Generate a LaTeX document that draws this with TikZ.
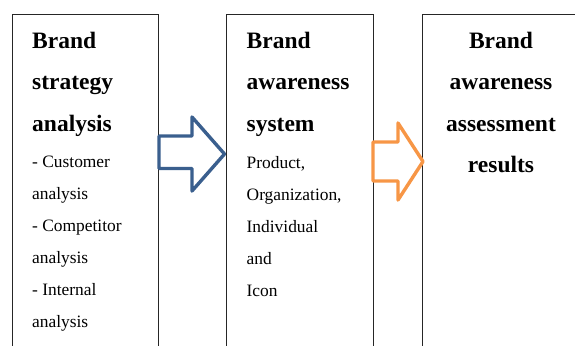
\documentclass[tikz,border=0pt]{standalone}
\usepackage{fontspec}
\setmainfont{Liberation Serif}

% one bold heading line and one plain text line, stacked in a \vtop
\newcommand\boxhead[1]{\hbox{\fontsize{23.5bp}{41.5bp}\selectfont\bfseries #1}}
\newcommand\boxline[1]{\hbox{\fontsize{17.4bp}{32bp}\selectfont #1}}
\newcommand\boxheadc[1]{\hbox to 0pt{\hss\fontsize{23.5bp}{41.5bp}\selectfont\bfseries #1\hss}}

\definecolor{arrowblue}{HTML}{3A5F8E}
\definecolor{arroworange}{HTML}{F79646}

\tikzset{
  panel/.style={draw=black!85, line width=0.9bp, anchor=north west,
                minimum height=420bp, inner sep=0pt},
  stack/.style={anchor=base west, inner sep=0pt},
  blockarrow/.style={line width=3.4bp, line join=round, fill=white}
}

\begin{document}
\begin{tikzpicture}[x=1bp, y=-1bp]
  \useasboundingbox (0,0) rectangle (575,345);
  \clip (0,0) rectangle (575,345);

  % the three columns (the last one runs past the right edge)
  \node[panel, minimum width=146bp] (strategy) at (12,14) {};
  \node[panel, minimum width=147bp] (system)   at (226,14) {};
  \node[panel, minimum width=200bp] (results)  at (421.5,14) {};

  % block arrows between the columns
  \draw[blockarrow, draw=arrowblue]
    (159,136) -- (192,136) -- (192,117) -- (224.5,154)
    -- (192,191) -- (192,168.5) -- (159,168.5) -- cycle;
  \draw[blockarrow, draw=arroworange]
    (373,142) -- (398,142) -- (398,123) -- (423,161.5)
    -- (398,200) -- (398,181) -- (373,181) -- cycle;

  % column texts
  \node[stack] (strategytext) at (32,48) {\vtop{%
    \lineskiplimit=-100bp \baselineskip=41.5bp
    \boxhead{Brand}\boxhead{strategy}\boxhead{analysis}%
    \baselineskip=36bp \boxline{- Customer}%
    \baselineskip=32bp
    \boxline{analysis}\boxline{- Competitor}\boxline{analysis}%
    \boxline{- Internal}\boxline{analysis}}};

  \node[stack] (systemtext) at (246.5,48) {\vtop{%
    \lineskiplimit=-100bp \baselineskip=41.5bp
    \boxhead{Brand}\boxhead{awareness}\boxhead{system}%
    \baselineskip=37bp \boxline{Product,}%
    \baselineskip=32bp
    \boxline{Organization,}\boxline{Individual}\boxline{and}\boxline{Icon}}};

  \node[stack, anchor=base] (resultstext) at (501,48) {\vtop{%
    \lineskiplimit=-100bp \baselineskip=41.5bp
    \boxheadc{Brand}\boxheadc{awareness}\boxheadc{assessment}\boxheadc{results}}};
\end{tikzpicture}
\end{document}
